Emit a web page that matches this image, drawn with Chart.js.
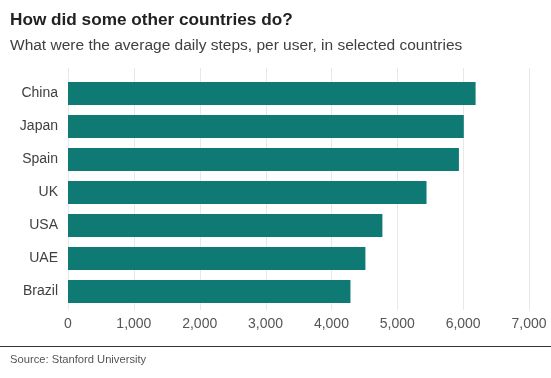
<!DOCTYPE html>
<html>
<head>
<meta charset="utf-8">
<script src="https://cdn.jsdelivr.net/npm/chart.js@4"></script>
<style>
  html, body { margin: 0; padding: 0; background: #fff; }
  #wrap { position: relative; width: 551px; height: 378px; overflow: hidden; font-family: "Liberation Sans", Arial, sans-serif; }
  #title { position: absolute; left: 10px; top: 9px; font-size: 17.2px; font-weight: bold; color: #222; white-space: nowrap; }
  #subtitle { position: absolute; left: 10px; top: 36px; font-size: 15.5px; color: #404040; white-space: nowrap; }
  #rule { position: absolute; left: 0; top: 346px; width: 551px; height: 1px; background: #333; }
  #source { position: absolute; left: 10px; top: 353px; font-size: 11.2px; color: #555; white-space: nowrap; }
  canvas { position: absolute; left: 0; top: 0; }
</style>
</head>
<body>
<div id="wrap">
  <canvas id="c" width="551" height="378"></canvas>
  <div id="title">How did some other countries do?</div>
  <div id="subtitle">What were the average daily steps, per user, in selected countries</div>
  <div id="rule"></div>
  <div id="source">Source: Stanford University</div>
</div>
<script>
const countries = ["China", "Japan", "Spain", "UK", "USA", "UAE", "Brazil"];
const avgDailySteps = [6189, 6010, 5936, 5444, 4774, 4516, 4289];
const xTickValues = [0, 1000, 2000, 3000, 4000, 5000, 6000, 7000];

const gridPlugin = {
  id: 'extGrid',
  beforeDatasetsDraw(chart) {
    const ctx = chart.ctx, xs = chart.scales.x;
    ctx.save();
    ctx.strokeStyle = '#e8e8e8';
    ctx.lineWidth = 1;
    xs.ticks.forEach(t => {
      const px = Math.round(xs.getPixelForValue(t.value)) + 0.5;
      ctx.beginPath();
      ctx.moveTo(px, 68);
      ctx.lineTo(px, 310);
      ctx.stroke();
    });
    ctx.restore();
  }
};

new Chart(document.getElementById('c'), {
  type: 'bar',
  data: {
    labels: countries,
    datasets: [{
      data: avgDailySteps,
      backgroundColor: '#0f7a73',
      borderWidth: 0,
      barPercentage: 0.7,
      categoryPercentage: 1.0
    }]
  },
  options: {
    indexAxis: 'y',
    responsive: false,
    animation: false,
    devicePixelRatio: 1,
    layout: { padding: { left: 0, right: 22, top: 77, bottom: 0 } },
    plugins: { legend: { display: false }, tooltip: { enabled: false }, title: { display: false } },
    scales: {
      x: {
        type: 'linear',
        min: 0,
        max: 7000,
        afterBuildTicks(s) { s.ticks = xTickValues.map(v => ({ value: v })); },
        afterFit(s) { s.height = 70; s.paddingLeft = 0; s.paddingRight = 0; },
        grid: { display: false, drawTicks: false },
        border: { display: false },
        ticks: {
          padding: 8,
          color: '#555',
          font: { family: '"Liberation Sans", Arial, sans-serif', size: 14 },
          callback: v => v.toLocaleString('en-US')
        }
      },
      y: {
        afterFit(s) { s.width = 68; s.paddingTop = 0; s.paddingBottom = 0; },
        grid: { display: false, drawTicks: false },
        border: { display: false },
        ticks: {
          padding: 10,
          color: '#404040',
          font: { family: '"Liberation Sans", Arial, sans-serif', size: 14 }
        }
      }
    }
  },
  plugins: [gridPlugin]
});
</script>
</body>
</html>
